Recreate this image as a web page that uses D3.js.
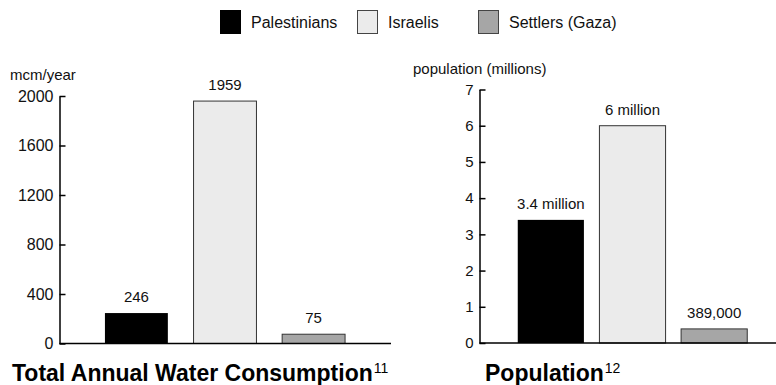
<!DOCTYPE html>
<html><head><meta charset="utf-8">
<script src="https://cdn.jsdelivr.net/npm/d3@7"></script>
<style>
body{margin:0;background:#fff;}
svg{display:block;font-family:"Liberation Sans",Arial,sans-serif;}
</style></head>
<body>
<svg id="c" width="776" height="385"></svg>
<script>
const categories = ["Palestinians", "Israelis", "Settlers (Gaza)"];
const waterValues = [246, 1959, 75];
const waterLabels = ["246", "1959", "75"];
const waterTicks = [0, 400, 800, 1200, 1600, 2000];
const popValues = [3.4, 6, 0.389];
const popLabels = ["3.4 million", "6 million", "389,000"];
const popTicks = [0, 1, 2, 3, 4, 5, 6, 7];
const colors = ["#000000", "#ebebeb", "#a6a6a6"];

const svg = d3.select("#c");

// Legend
const legendX = [220, 357, 478];
const lg = svg.append("g");
categories.forEach((c, i) => {
  lg.append("rect").attr("x", legendX[i] + 0.5).attr("y", 10.5).attr("width", 20).attr("height", 23)
    .attr("fill", colors[i]).attr("stroke", i === 0 ? "#000" : "#444").attr("stroke-width", 1);
  lg.append("text").attr("x", legendX[i] + 31).attr("y", 28).attr("font-size", 16)
    .attr("fill", "#111").text(c);
});

function panel(opts) {
  const g = svg.append("g");
  const y = d3.scaleLinear().domain(opts.domain).range([opts.y0, opts.y1]);
  const x = d3.scaleBand().domain(categories).range(opts.xr)
    .paddingInner(opts.pi).paddingOuter(opts.po);
  // bars
  g.selectAll("rect.bar").data(opts.values).join("rect").attr("class", "bar")
    .attr("x", (d, i) => x(categories[i]))
    .attr("y", d => y(d))
    .attr("width", x.bandwidth())
    .attr("height", d => y(0) - y(d))
    .attr("fill", (d, i) => colors[i])
    .attr("stroke", (d, i) => i === 0 ? "none" : "#333")
    .attr("stroke-width", 1);
  // value labels
  g.selectAll("text.val").data(opts.values).join("text").attr("class", "val")
    .attr("x", (d, i) => x(categories[i]) + x.bandwidth() / 2)
    .attr("y", d => y(d) - 11)
    .attr("text-anchor", "middle").attr("font-size", 15).attr("fill", "#111")
    .text((d, i) => opts.labels[i]);
  // baseline
  g.append("line").attr("x1", opts.ax).attr("x2", opts.xEnd)
    .attr("y1", y(0)).attr("y2", y(0)).attr("stroke", "#000").attr("stroke-width", 1.5);
  // axis
  const axis = d3.axisLeft(y).tickValues(opts.ticks).tickSizeInner(-6).tickSizeOuter(0)
    .tickPadding(6).tickFormat(d3.format("d"));
  const ag = g.append("g").attr("transform", `translate(${opts.ax},0)`).call(axis);
  ag.select(".domain").attr("stroke", "#000").attr("stroke-width", 1.5);
  ag.selectAll(".tick line").attr("stroke", "#000").attr("stroke-width", 1.5);
  ag.selectAll(".tick text").attr("font-size", opts.tickFont).attr("fill", "#111")
    .attr("font-family", '"Liberation Sans",Arial,sans-serif');
  // unit label
  g.append("text").attr("x", opts.unitX).attr("y", opts.unitY).attr("font-size", 15)
    .attr("fill", "#111").text(opts.unit);
  // title
  const t = g.append("text").attr("x", opts.titleX).attr("y", 381)
    .attr("font-size", 23).attr("font-weight", "bold").attr("fill", "#000");
  t.append("tspan").text(opts.title);
  t.append("tspan").attr("font-size", 14).attr("font-weight", "normal").attr("dy", -8).attr("dx", 1).text(opts.sup);
}

panel({
  domain: [0, 2000], y0: 343.5, y1: 96, xr: [92, 358], pi: 0.29, po: 0.146,
  values: waterValues, labels: waterLabels, ticks: waterTicks, ax: 59.5, xEnd: 391,
  tickFont: 16, unit: "mcm/year", unitX: 10, unitY: 80,
  title: "Total Annual Water Consumption", sup: "11", titleX: 12
});
panel({
  domain: [0, 7], y0: 343, y1: 89.5, xr: [510, 755], pi: 0.19, po: 0.095,
  values: popValues, labels: popLabels, ticks: popTicks, ax: 479.5, xEnd: 776,
  tickFont: 15, unit: "population (millions)", unitX: 413, unitY: 74,
  title: "Population", sup: "12", titleX: 485
});
</script>
</body></html>
